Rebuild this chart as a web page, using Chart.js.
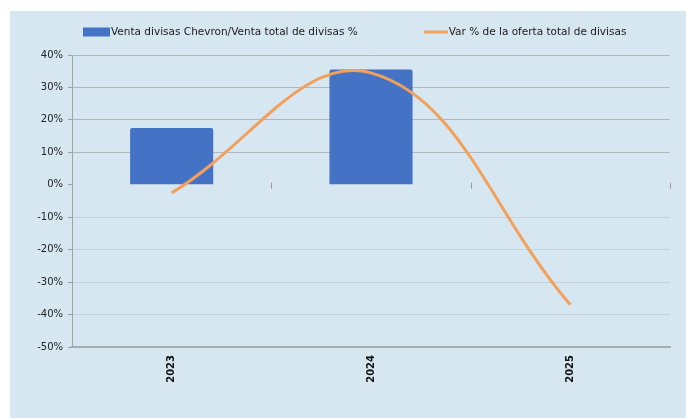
<!DOCTYPE html>
<html lang="es">
<head>
<meta charset="UTF-8">
<title>Venta divisas Chevron</title>
<script src="https://cdn.jsdelivr.net/npm/chart.js"></script>
<style>
  html, body { margin: 0; padding: 0; background: #ffffff; }
  #panel { position: absolute; left: 10px; top: 11px; width: 676px; height: 407px; background: #d6e7f1; }
</style>
</head>
<body>
<div id="panel"><canvas id="chart"></canvas></div>
<script>
// data
const years = ['2023', '2024', '2025'];
const chevronShare = [17.5, 35.5, null];      // Venta divisas Chevron / Venta total de divisas %
const supplyChange = [-2.5, 34.5, -37];        // Var % de la oferta total de divisas
const seriesNames = ['Venta divisas Chevron/Venta total de divisas %', 'Var % de la oferta total de divisas'];
const yMin = -50, yMax = 40, yStep = 10;

const FONT = 'DejaVu Sans';

// legend drawn by hand so the wide gap between the two entries can be matched
const legendPlugin = {
  id: 'topLegend',
  afterDraw(chart) {
    const ctx = chart.ctx;
    const y = 21;
    let x = 73;
    ctx.save();
    ctx.font = '10.5px "' + FONT + '"';
    ctx.textBaseline = 'middle';
    chart.data.datasets.forEach(ds => {
      if (ds.type === 'line') {
        ctx.strokeStyle = ds.borderColor;
        ctx.lineWidth = 3;
        ctx.beginPath();
        ctx.moveTo(x, y);
        ctx.lineTo(x + 24, y);
        ctx.stroke();
        x += 25;
      } else {
        ctx.fillStyle = ds.backgroundColor;
        ctx.fillRect(x, y - 4.5, 27, 9);
        x += 28;
      }
      ctx.fillStyle = '#1a1a1a';
      ctx.fillText(ds.label, x, y);
      x += ctx.measureText(ds.label).width + 66;
    });
    ctx.restore();
  }
};

// small tick marks where the category axis crosses 0
const zeroTicks = {
  id: 'zeroTicks',
  beforeDatasetsDraw(chart) {
    const xs = chart.scales.x, ys = chart.scales.y;
    const y0 = ys.getPixelForValue(0);
    const ctx = chart.ctx;
    ctx.save();
    ctx.strokeStyle = '#9a9a9a';
    ctx.lineWidth = 1;
    for (let i = 1; i <= years.length; i++) {
      const px = Math.round(xs.getPixelForValue(i - 0.5)) + 0.5;
      ctx.beginPath();
      ctx.moveTo(px, y0 - 2);
      ctx.lineTo(px, y0 + 4);
      ctx.stroke();
    }
    ctx.restore();
  }
};

new Chart(document.getElementById('chart'), {
  data: {
    labels: years,
    datasets: [{
      type: 'bar',
      label: seriesNames[0],
      data: chevronShare,
      backgroundColor: '#4472c4',
      borderRadius: 2,
      categoryPercentage: 1,
      barPercentage: 0.417,
      order: 2
    }, {
      type: 'line',
      label: seriesNames[1],
      data: supplyChange,
      borderColor: '#f2a05c',
      borderWidth: 3,
      pointRadius: 0,
      tension: 0.4,
      order: 1
    }]
  },
  options: {
    responsive: true,
    maintainAspectRatio: false,
    animation: false,
    layout: { padding: { top: 44, right: 16, left: 0, bottom: 0 } },
    plugins: { legend: { display: false }, tooltip: { enabled: false } },
    scales: {
      x: {
        offset: true,
        grid: { display: false, drawTicks: false },
        border: { color: '#a8abad', width: 2 },
        ticks: {
          minRotation: 90, maxRotation: 90, padding: 8,
          color: '#111111',
          font: { family: FONT, size: 10, weight: 'bold' }
        },
        afterFit(s) { s.height = 71; }
      },
      y: {
        min: yMin, max: yMax,
        border: { color: '#a0a3a5', width: 1 },
        grid: {
          tickLength: 4,
          color(c) {
            const v = c.tick.value;
            if (v === 0) return 'rgba(0,0,0,0)';
            if (v === yMin) return '#a8abad';
            return v > 0 ? '#b4b7ba' : '#c3d1da';
          },
          tickColor: '#9c9fa1'
        },
        ticks: {
          stepSize: yStep,
          padding: 5,
          color: '#222222',
          font: { family: FONT, size: 10 },
          callback: v => v + '%'
        },
        afterFit(s) { s.width = 62; }
      }
    }
  },
  plugins: [legendPlugin, zeroTicks]
});
</script>
</body>
</html>
